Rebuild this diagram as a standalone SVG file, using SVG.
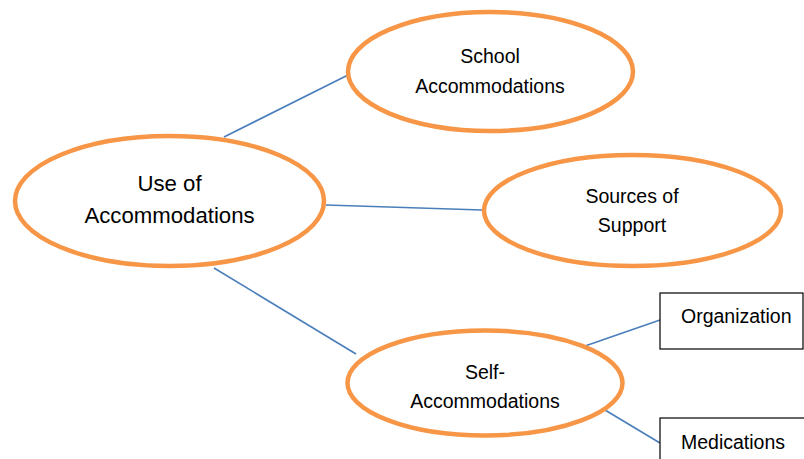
<svg xmlns="http://www.w3.org/2000/svg" width="804" height="459" viewBox="0 0 804 459">
<style>
.oval{fill:#fff;stroke:#F79646;stroke-width:4.5}
.box{fill:#fff;stroke:#000;stroke-width:1.2}
.conn{stroke:#4A7EBB;stroke-width:1.6;fill:none}
text{font-family:"Liberation Sans",Arial,sans-serif;font-size:19.5px;fill:#000;text-anchor:middle}
.big{font-size:22.2px}
.left{text-anchor:start}
</style>
<rect width="804" height="459" fill="#fff"/>
<g id="connectors">
<line class="conn" x1="224" y1="137" x2="348" y2="75"/>
<line class="conn" x1="326" y1="205" x2="482" y2="210"/>
<line class="conn" x1="214" y1="268" x2="356" y2="354"/>
<line class="conn" x1="585" y1="346" x2="660" y2="320"/>
<line class="conn" x1="600" y1="407" x2="660" y2="443"/>
</g>
<g id="use-of-accommodations">
<ellipse class="oval" cx="169.5" cy="201" rx="154.5" ry="65"/>
<text class="big" x="169.5" y="191">Use of</text>
<text class="big" x="169.5" y="223">Accommodations</text>
</g>
<g id="school-accommodations">
<ellipse class="oval" cx="490.5" cy="71.5" rx="142.5" ry="59.5"/>
<text x="490" y="63">School</text>
<text x="490" y="93">Accommodations</text>
</g>
<g id="sources-of-support">
<ellipse class="oval" cx="632.5" cy="210.5" rx="148.5" ry="55.5"/>
<text x="632" y="203">Sources of</text>
<text x="632" y="232">Support</text>
</g>
<g id="self-accommodations">
<ellipse class="oval" cx="485" cy="383" rx="137.5" ry="52.5"/>
<text x="485" y="379">Self-</text>
<text x="485" y="408">Accommodations</text>
</g>
<g id="organization">
<rect class="box" x="660" y="293" width="143" height="56"/>
<text class="left" x="681" y="323">Organization</text>
</g>
<g id="medications">
<rect class="box" x="660" y="418" width="150" height="56"/>
<text class="left" x="681" y="449">Medications</text>
</g>
</svg>
